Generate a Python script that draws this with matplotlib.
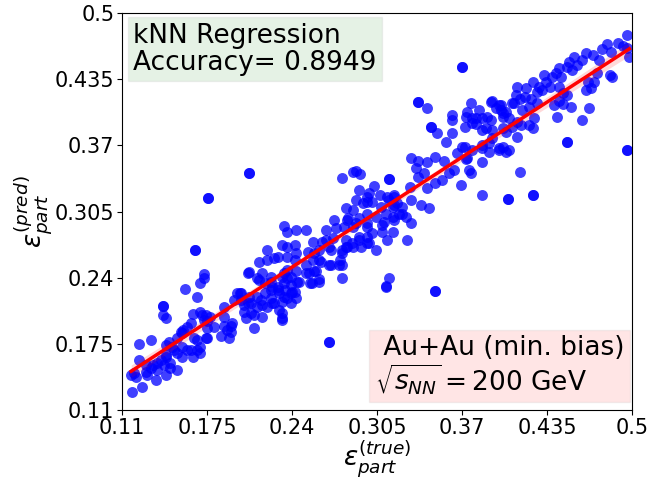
import numpy as np
import matplotlib
matplotlib.use("Agg")
import matplotlib.pyplot as plt

# eps_part true (x) and predicted (y)
x_true = [
 0.166,0.176,0.207,0.173,0.173,0.170,0.158,0.167,0.141,0.141,0.144,0.164,0.163,0.170,0.174,0.173,
 0.157,0.155,0.175,0.180,0.188,0.196,0.201,0.188,0.193,0.186,0.192,0.175,0.167,0.146,0.132,0.123,
 0.160,0.152,0.164,0.170,0.144,0.147,0.137,0.123,0.128,0.119,0.117,0.144,0.136,0.128,0.118,0.125,
 0.207,0.215,0.221,0.229,0.236,0.217,0.215,0.224,0.209,0.216,0.224,0.205,0.211,0.217,0.211,0.232,
 0.232,0.234,0.229,0.201,0.206,0.213,0.219,0.224,0.229,0.239,0.226,0.234,0.239,0.219,0.224,0.232,
 0.236,0.213,0.221,0.239,0.134,0.140,0.144,0.150,0.156,0.163,0.167,0.142,0.147,0.152,0.137,0.132,
 0.129,0.121,0.144,0.148,0.156,0.152,0.156,0.160,0.165,0.170,0.174,0.171,0.177,0.175,0.188,0.190,
 0.198,0.203,0.209,
 0.278,0.287,0.289,0.292,0.314,0.303,0.291,0.299,0.297,0.289,0.301,0.294,0.281,0.287,0.282,0.272,
 0.274,0.266,0.280,0.289,0.297,0.301,0.309,0.317,0.310,0.317,0.318,0.314,0.318,0.304,0.313,0.297,
 0.291,0.287,0.293,0.281,0.278,0.277,0.278,0.268,0.278,0.261,0.258,0.253,0.255,0.261,0.251,0.256,
 0.261,0.268,0.271,0.256,0.263,0.252,0.257,0.266,0.251,0.243,0.234,0.236,0.242,0.236,0.232,0.221,
 0.226,0.243,0.242,0.243,0.244,0.239,0.234,0.236,0.225,0.230,0.235,0.242,0.236,0.232,0.213,0.206,
 0.207,0.200,0.203,0.217,0.225,0.230,0.232,0.194,0.193,0.314,0.312,0.268,
 0.336,0.343,0.346,0.351,0.358,0.362,0.362,0.362,0.374,0.377,0.373,0.381,0.383,0.389,0.392,0.398,
 0.401,0.372,0.378,0.385,0.393,0.401,0.391,0.398,0.404,0.385,0.385,0.375,0.377,0.369,0.385,0.405,
 0.370,0.366,0.373,0.364,0.360,0.355,0.349,0.343,0.356,0.349,0.343,0.336,0.331,0.335,0.341,0.336,
 0.330,0.339,0.345,0.331,0.324,0.324,0.331,0.328,0.297,0.291,0.286,0.281,0.278,0.283,0.297,0.307,
 0.313,0.318,0.320,0.317,0.322,0.327,0.308,0.304,0.312,0.297,0.291,0.287,0.297,0.309,0.318,
 0.496,0.489,0.493,0.498,0.496,0.481,0.477,0.475,0.484,0.470,0.465,0.462,0.456,0.452,0.458,0.454,
 0.450,0.444,0.446,0.439,0.433,0.434,0.437,0.429,0.427,0.424,0.419,0.418,0.412,0.411,0.410,0.408,
 0.414,0.423,0.444,0.447,0.450,0.444,0.440,0.447,0.453,0.443,0.462,0.467,0.465,0.466,0.469,0.471,
 0.473,0.483,0.485,0.442,0.431,0.427,0.421,0.416,0.412,0.425,0.424,0.421,0.415,0.408,0.406,0.400,
 0.396,0.393,0.400,0.404,0.401,0.392,0.385,0.378,0.381,0.388,0.404,0.370,0.393,0.401,0.406,0.412,
 0.398,0.385,0.378,0.372,0.374,0.391,0.414,0.424,0.450,0.496,
 0.349,0.261,0.254,0.243,0.240,0.245,0.251,0.257,0.262,0.270,0.276,0.270,0.282,0.299,
 # overlapping pairs (solid-looking dots)
 0.166,0.176,0.207,0.268,0.349,0.312,0.370,0.496,0.450,0.405,0.424,0.336,0.346,0.314,0.141,
]
y_pred = [
 0.267,0.318,0.343,0.244,0.240,0.235,0.229,0.221,0.212,0.203,0.200,0.204,0.195,0.206,0.203,0.198,
 0.189,0.187,0.191,0.192,0.211,0.218,0.225,0.201,0.193,0.183,0.181,0.181,0.179,0.177,0.179,0.175,
 0.169,0.166,0.162,0.166,0.162,0.156,0.156,0.159,0.154,0.146,0.144,0.144,0.139,0.147,0.128,0.133,
 0.246,0.255,0.257,0.260,0.260,0.245,0.238,0.241,0.215,0.218,0.220,0.200,0.203,0.201,0.191,0.205,
 0.198,0.235,0.228,0.218,0.215,0.221,0.225,0.228,0.231,0.241,0.215,0.221,0.225,0.235,0.236,0.241,
 0.248,0.211,0.211,0.215,0.154,0.159,0.164,0.169,0.162,0.169,0.169,0.154,0.151,0.149,0.149,0.151,
 0.144,0.142,0.174,0.172,0.172,0.181,0.186,0.192,0.181,0.172,0.181,0.203,0.201,0.197,0.193,0.189,
 0.225,0.206,0.205,
 0.338,0.344,0.345,0.342,0.337,0.330,0.326,0.323,0.319,0.316,0.314,0.313,0.308,0.306,0.297,0.297,
 0.289,0.287,0.290,0.294,0.290,0.284,0.285,0.285,0.295,0.300,0.311,0.316,0.319,0.267,0.277,0.280,
 0.277,0.270,0.270,0.270,0.264,0.257,0.252,0.252,0.240,0.257,0.247,0.245,0.235,0.236,0.252,0.257,
 0.267,0.270,0.279,0.275,0.275,0.265,0.264,0.277,0.287,0.287,0.291,0.285,0.272,0.270,0.272,0.267,
 0.259,0.264,0.257,0.247,0.236,0.233,0.245,0.240,0.231,0.225,0.228,0.226,0.220,0.216,0.240,0.245,
 0.221,0.225,0.213,0.213,0.215,0.208,0.200,0.195,0.187,0.240,0.231,0.177,
 0.413,0.407,0.388,0.382,0.373,0.382,0.400,0.395,0.403,0.412,0.398,0.397,0.405,0.398,0.413,0.410,
 0.402,0.388,0.392,0.385,0.385,0.387,0.372,0.367,0.363,0.367,0.354,0.346,0.343,0.331,0.321,0.317,
 0.368,0.362,0.357,0.346,0.343,0.336,0.333,0.328,0.355,0.359,0.354,0.355,0.358,0.348,0.343,0.339,
 0.329,0.311,0.308,0.316,0.309,0.303,0.294,0.277,0.274,0.280,0.274,0.277,0.267,0.299,0.314,0.321,
 0.319,0.321,0.313,0.309,0.303,0.300,0.309,0.300,0.303,0.303,0.299,0.290,0.294,0.292,0.297,
 0.478,0.471,0.468,0.457,0.466,0.470,0.465,0.454,0.462,0.459,0.461,0.454,0.457,0.452,0.449,0.444,
 0.447,0.446,0.437,0.437,0.439,0.432,0.427,0.427,0.422,0.432,0.426,0.417,0.427,0.419,0.412,0.412,
 0.416,0.416,0.427,0.421,0.419,0.414,0.410,0.411,0.408,0.398,0.395,0.407,0.424,0.432,0.426,0.432,
 0.441,0.439,0.437,0.441,0.424,0.412,0.408,0.405,0.393,0.397,0.387,0.390,0.390,0.388,0.397,0.405,
 0.407,0.414,0.410,0.403,0.398,0.395,0.397,0.397,0.391,0.387,0.383,0.447,0.377,0.368,0.365,0.378,
 0.365,0.370,0.365,0.368,0.358,0.363,0.344,0.321,0.373,0.365,
 0.227,0.239,0.235,0.220,0.226,0.236,0.245,0.247,0.255,0.252,0.252,0.267,0.270,0.274,
 0.267,0.318,0.343,0.177,0.227,0.232,0.447,0.365,0.373,0.317,0.321,0.413,0.388,0.337,0.212,
]

tick_vals = [0.11, 0.175, 0.24, 0.305, 0.37, 0.435, 0.5]
tick_labels = ["0.11", "0.175", "0.24", "0.305", "0.37", "0.435", "0.5"]
model_text = "kNN Regression\nAccuracy= 0.8949"
system_text = " Au+Au (min. bias)\n$\\sqrt{s_{NN}} = 200$ GeV"

x = np.array(x_true)
y = np.array(y_pred)

fig = plt.figure(figsize=(6.51, 4.82), dpi=100)
ax = fig.add_axes([122/651, 72/482, 510/651, 397/482])

ax.scatter(x, y, s=62, color="blue", alpha=0.75, linewidths=0, zorder=2)

# linear fit with 95% confidence band
b1, b0 = np.polyfit(x, y, 1)
xg = np.linspace(x.min(), x.max(), 200)
yg = b0 + b1 * xg
resid = y - (b0 + b1 * x)
n = len(x)
s = np.sqrt(np.sum(resid**2) / (n - 2))
sxx = np.sum((x - x.mean())**2)
se = s * np.sqrt(1.0 / n + (xg - x.mean())**2 / sxx)
ax.fill_between(xg, yg - 1.96 * se, yg + 1.96 * se, color="red", alpha=0.15, linewidth=0, zorder=3)
ax.plot(xg, yg, color="red", lw=2.5, zorder=4)

ax.set_xlim(0.11, 0.5)
ax.set_ylim(0.11, 0.5)
ax.set_xticks(tick_vals)
ax.set_xticklabels(tick_labels)
ax.set_yticks(tick_vals)
ax.set_yticklabels(tick_labels)
ax.tick_params(labelsize=15, pad=2)

ax.set_xlabel(r"$\epsilon_{part}^{(true)}$", fontsize=19, labelpad=1)
ax.set_ylabel(r"$\epsilon_{part}^{(pred)}$", fontsize=19, labelpad=0)

ax.text(0.022, 0.975, model_text, transform=ax.transAxes, ha="left", va="top",
        fontsize=19, linespacing=1.05,
        bbox=dict(facecolor="green", alpha=0.1, edgecolor="gray"))
ax.text(0.985, 0.035, system_text, transform=ax.transAxes, ha="right", va="bottom",
        multialignment="left", fontsize=19, linespacing=1.05,
        bbox=dict(facecolor="red", alpha=0.1, edgecolor="gray"))

fig.savefig("out.png", dpi=100)
